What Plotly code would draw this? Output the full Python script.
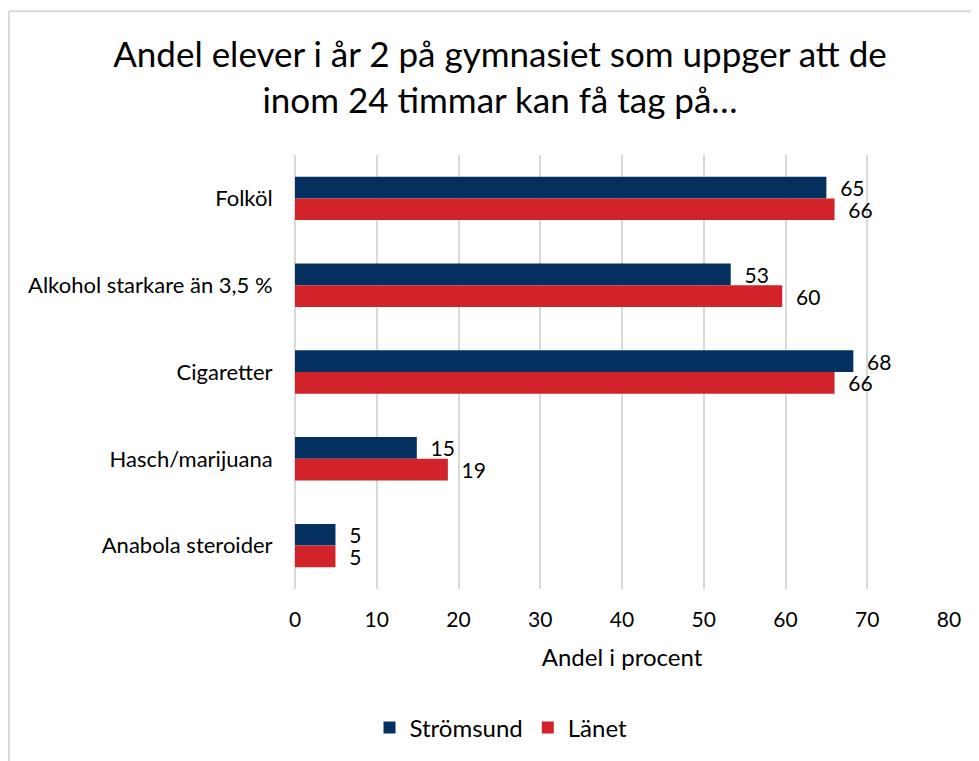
import plotly.graph_objects as go

categories = ["Folköl", "Alkohol starkare än 3,5 %", "Cigaretter", "Hasch/marijuana", "Anabola steroider"]
stromsund = [65.0, 53.3, 68.3, 14.9, 4.95]
lanet = [66.0, 59.6, 66.0, 18.7, 4.95]
series_names = ["Strömsund", "Länet"]
colors = ["#03305E", "#D2232A"]
x_ticks = [0, 10, 20, 30, 40, 50, 60, 70, 80]

# page body has an 8px margin; figure coordinates = screen - 8
OFF = 8
W, H = 979 - OFF, 761 - OFF
L = 295 - OFF
T = 155 - OFF
R = W - (949 - OFF)
B = H - (590 - OFF)
pw, ph = W - L - R, H - T - B

def sx(px):  # screen x -> paper
    return (px - OFF - L) / pw

def sy(py):  # screen y -> paper
    return (H - B - (py - OFF)) / ph

font = "Lato, 'Open Sans', sans-serif"

fig = go.Figure()
for name, vals, col in zip(series_names, [stromsund, lanet], colors):
    fig.add_trace(go.Bar(
        y=categories, x=vals, name=name, orientation="h",
        marker=dict(color=col, line=dict(width=0)),
        text=vals, texttemplate="  %{x:.0f}", textposition="outside",
        textfont=dict(size=21, color="#000000", family=font),
        constraintext="none",
        cliponaxis=False,
    ))

fig.update_layout(
    width=W, height=H,
    margin=dict(l=L, r=R, t=T, b=B),
    paper_bgcolor="white", plot_bgcolor="white",
    barmode="group", bargap=0.5, bargroupgap=0,
    font=dict(family=font, size=21, color="#000000"),
    uniformtext=dict(mode=False),
    title=dict(
        text="Andel elever i år 2 på gymnasiet som uppger att de<br>inom 24 timmar kan få tag på…",
        x=sx(500), xref="paper", xanchor="center",
        y=1 - 59 / H, yanchor="middle",
        font=dict(size=35, family=font, color="#000000"),
    ),
    xaxis=dict(
        range=[0, 80], tickvals=x_ticks, showgrid=True, gridcolor="#d9d9d9", gridwidth=2,
        zeroline=True, zerolinecolor="#d9d9d9", zerolinewidth=2,
        showline=False, ticks="outside", ticklen=12, tickcolor="rgba(0,0,0,0)",
        tickfont=dict(size=21),
        title=dict(text="Andel i procent", font=dict(size=24), standoff=18),
    ),
    yaxis=dict(
        autorange="reversed", showgrid=False, showline=False, zeroline=False,
        ticks="outside", ticklen=17, tickcolor="rgba(0,0,0,0)",
        tickfont=dict(size=22),
    ),
    legend=dict(
        orientation="h", x=sx(501), xanchor="center",
        y=sy(728), yanchor="middle",
        font=dict(size=24), itemwidth=30, traceorder="normal",
    ),
    showlegend=True,
)

# chart frame border (light gray), extends off right and bottom edges
fig.add_shape(type="line", xref="paper", yref="paper",
              x0=sx(9), x1=sx(9), y0=sy(11), y1=sy(775),
              line=dict(color="#d9d9d9", width=2))
fig.add_shape(type="line", xref="paper", yref="paper",
              x0=sx(9), x1=sx(990), y0=sy(11), y1=sy(11),
              line=dict(color="#d9d9d9", width=2))

fig.write_html("out.html")
